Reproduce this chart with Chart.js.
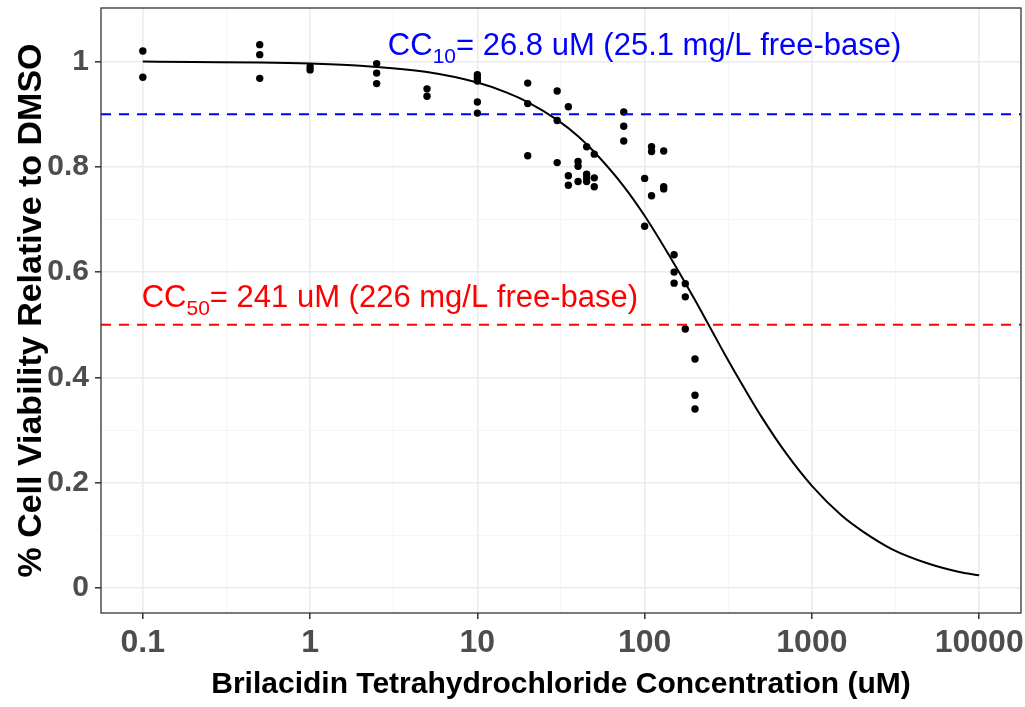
<!DOCTYPE html>
<html>
<head>
<meta charset="utf-8">
<script src="https://cdn.jsdelivr.net/npm/chart.js@4.4.0/dist/chart.umd.min.js"></script>
<style>
  html, body { margin: 0; padding: 0; background: #fff; }
  #wrap { width: 1025px; height: 707px; }
</style>
</head>
<body>
<div id="wrap"><canvas id="cvChart"></canvas></div>
<script>
// measured viability per concentration (uM)
const doses = [
    0.1, 0.1,
    0.5, 0.5, 0.5,
    1, 1,
    2.5, 2.5, 2.5,
    5, 5,
    10, 10, 10, 10, 10,
    20, 20, 20,
    30, 30, 30,
    35, 35, 35,
    40, 40, 40,
    45, 45, 45, 45,
    50, 50, 50,
    75, 75, 75,
    100, 100,
    110, 110, 110,
    130, 130, 130,
    150, 150, 150,
    175, 175, 175,
    200, 200, 200
];
const viability = [
    1.020, 0.970,
    1.032, 1.013, 0.968,
    0.990, 0.984,
    0.996, 0.978, 0.958,
    0.948, 0.934,
    0.975, 0.969, 0.963, 0.923, 0.902,
    0.959, 0.920, 0.821,
    0.944, 0.888, 0.808,
    0.914, 0.783, 0.765,
    0.810, 0.801, 0.772,
    0.838, 0.786, 0.779, 0.772,
    0.824, 0.779, 0.762,
    0.904, 0.877, 0.849,
    0.778, 0.687,
    0.838, 0.829, 0.745,
    0.830, 0.762, 0.758,
    0.633, 0.600, 0.579,
    0.578, 0.553, 0.492,
    0.435, 0.366, 0.340
];

// fitted curve
const curveX = [0.1, 0.2, 0.5, 1, 2, 5, 10, 15, 20, 30, 40, 50, 75, 100, 150, 200, 250, 300, 400, 500, 700, 1000, 1500, 2000, 3000, 5000, 7500, 10000];
const curveY = [1.000, 0.999, 0.998, 0.996, 0.992, 0.980, 0.960, 0.941, 0.923, 0.889, 0.858, 0.828, 0.763, 0.707, 0.616, 0.547, 0.491, 0.445, 0.376, 0.325, 0.256, 0.194, 0.138, 0.108, 0.074, 0.046, 0.031, 0.024];

// CC10 and CC50 reference levels
const refLevels = [0.9, 0.5];
const refColors = ['#0000ff', '#ff0000'];

const xTickValues = [0.1, 1, 10, 100, 1000, 10000];
const xTickLabels = ['0.1', '1', '10', '100', '1000', '10000'];
const xMinorTicks = [0.316, 3.16, 31.6, 316, 3162];
const yTickValues = [0, 0.2, 0.4, 0.6, 0.8, 1];
const yTickLabels = ['0', '0.2', '0.4', '0.6', '0.8', '1'];
const yMinorTicks = [0.1, 0.3, 0.5, 0.7, 0.9];

const notes = [
    { x: 100, y: 1.033, main: 'CC', sub: '10', rest: '= 26.8 uM (25.1 mg/L free-base)', color: '#0000ff' },
    { x: 3, y: 0.555, main: 'CC', sub: '50', rest: '= 241 uM (226 mg/L free-base)', color: '#ff0000' }
];

const FONT = '"Liberation Sans", Arial, Helvetica, sans-serif';

const points = doses.map((d, i) => ({ x: d, y: viability[i] }));
const curve = curveX.map((d, i) => ({ x: d, y: curveY[i] }));

function isMajor(list, v) {
    return list.some(t => Math.abs(t - v) < 1e-9 * Math.max(1, Math.abs(t)));
}

const panelPlugin = {
    id: 'panel',
    afterDatasetsDraw(chart) {
        const { ctx, chartArea: a, scales } = chart;
        ctx.save();
        // reference lines
        ctx.lineWidth = 2;
        ctx.setLineDash([10, 8]);
        refLevels.forEach((lv, i) => {
            const py = scales.y.getPixelForValue(lv);
            ctx.strokeStyle = refColors[i];
            ctx.beginPath();
            ctx.moveTo(a.left, py);
            ctx.lineTo(a.right, py);
            ctx.stroke();
        });
        ctx.setLineDash([]);

        // annotations with subscripts
        notes.forEach(n => {
            const mainFont = '31px ' + FONT;
            const subFont = '21px ' + FONT;
            ctx.font = mainFont;
            const w1 = ctx.measureText(n.main).width;
            const w3 = ctx.measureText(n.rest).width;
            ctx.font = subFont;
            const w2 = ctx.measureText(n.sub).width;
            const total = w1 + w2 + w3;
            const px = scales.x.getPixelForValue(n.x);
            const base = scales.y.getPixelForValue(n.y) + 11;
            let sx = px - total / 2;
            ctx.fillStyle = n.color;
            ctx.textBaseline = 'alphabetic';
            ctx.textAlign = 'left';
            ctx.font = mainFont;
            ctx.fillText(n.main, sx, base);
            sx += w1;
            ctx.font = subFont;
            ctx.fillText(n.sub, sx, base + 8);
            sx += w2;
            ctx.font = mainFont;
            ctx.fillText(n.rest, sx, base);
        });

        // panel border
        ctx.strokeStyle = '#333333';
        ctx.lineWidth = 1.3;
        ctx.strokeRect(a.left, a.top, a.right - a.left, a.bottom - a.top);
        ctx.restore();
    }
};

const ctx = document.getElementById('cvChart').getContext('2d');
const chart = new Chart(ctx, {
    type: 'scatter',
    data: {
        datasets: [
            {
                label: 'Viability',
                data: points,
                backgroundColor: '#000000',
                borderWidth: 0,
                pointRadius: 3.7,
                pointHoverRadius: 3.7
            },
            {
                label: 'Fit',
                type: 'line',
                data: curve,
                borderColor: '#000000',
                borderWidth: 2,
                pointRadius: 0,
                fill: false,
                cubicInterpolationMode: 'monotone'
            }
        ]
    },
    options: {
        responsive: true,
        maintainAspectRatio: false,
        animation: false,
        layout: { padding: { top: 8, right: 4, left: 0, bottom: 0 } },
        plugins: {
            legend: { display: false },
            tooltip: { enabled: false }
        },
        scales: {
            x: {
                type: 'logarithmic',
                min: Math.pow(10, -1.25),
                max: Math.pow(10, 4.25),
                border: { display: false },
                afterBuildTicks(scale) {
                    scale.ticks = xTickValues.concat(xMinorTicks).sort((a, b) => a - b).map(v => ({ value: v }));
                },
                afterFit(scale) {
                    scale.height = 94;
                    scale.paddingLeft = 0;
                    scale.paddingRight = 0;
                },
                grid: {
                    color: c => isMajor(xTickValues, c.tick.value) ? '#ebebeb' : '#f4f4f4',
                    lineWidth: c => isMajor(xTickValues, c.tick.value) ? 1.6 : 0.9,
                    tickColor: c => isMajor(xTickValues, c.tick.value) ? '#333333' : 'rgba(0,0,0,0)',
                    tickWidth: 1.5,
                    tickLength: 6
                },
                ticks: {
                    autoSkip: false,
                    maxRotation: 0,
                    minRotation: 0,
                    padding: 5,
                    color: '#4d4d4d',
                    font: { family: FONT, size: 32, weight: 'bold' },
                    callback: v => {
                        const i = xTickValues.findIndex(t => Math.abs(t - v) < 1e-9 * t);
                        return i >= 0 ? xTickLabels[i] : '';
                    }
                },
                title: {
                    display: true,
                    text: 'Brilacidin Tetrahydrochloride Concentration (uM)',
                    color: '#000000',
                    font: { family: FONT, size: 30, weight: 'bold' },
                    padding: { top: 0, bottom: 4 }
                }
            },
            y: {
                type: 'linear',
                min: -0.0475,
                max: 1.1016,
                border: { display: false },
                afterBuildTicks(scale) {
                    scale.ticks = yTickValues.concat(yMinorTicks).sort((a, b) => a - b).map(v => ({ value: v }));
                },
                afterFit(scale) {
                    scale.width = 101;
                    scale.paddingTop = 0;
                    scale.paddingBottom = 0;
                },
                grid: {
                    color: c => isMajor(yTickValues, c.tick.value) ? '#ebebeb' : '#f4f4f4',
                    lineWidth: c => isMajor(yTickValues, c.tick.value) ? 1.6 : 0.9,
                    tickColor: c => isMajor(yTickValues, c.tick.value) ? '#333333' : 'rgba(0,0,0,0)',
                    tickWidth: 1.5,
                    tickLength: 6
                },
                ticks: {
                    autoSkip: false,
                    padding: 6,
                    color: '#4d4d4d',
                    font: { family: FONT, size: 30, weight: 'bold' },
                    callback: v => {
                        const i = yTickValues.findIndex(t => Math.abs(t - v) < 1e-9);
                        return i >= 0 ? yTickLabels[i] : '';
                    }
                },
                title: {
                    display: true,
                    text: '% Cell Viability Relative to DMSO',
                    color: '#000000',
                    font: { family: FONT, size: 34, weight: 'bold' },
                    padding: { top: 11, bottom: 0 }
                }
            }
        }
    },
    plugins: [panelPlugin]
});
</script>
</body>
</html>
